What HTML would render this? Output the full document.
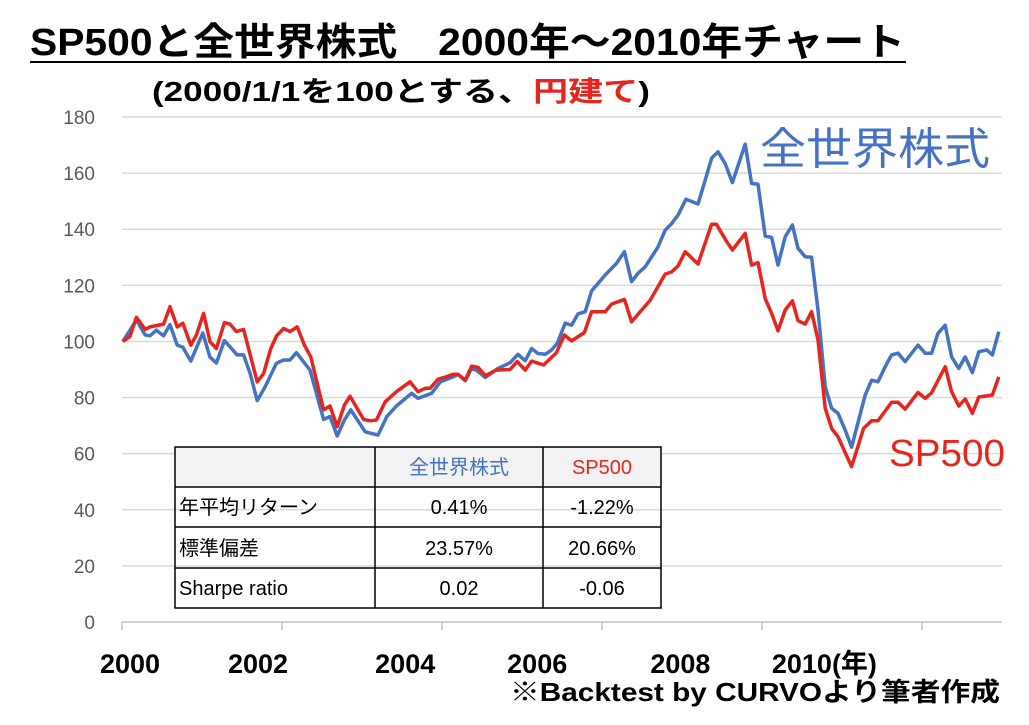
<!DOCTYPE html>
<html><head><meta charset="utf-8"><style>
body{margin:0;width:1029px;height:720px;background:#fff;overflow:hidden;font-family:"Liberation Sans","Noto Sans CJK JP",sans-serif;}
svg text{font-family:"Liberation Sans","Noto Sans CJK JP",sans-serif;}
</style></head><body>
<svg id="chart" width="1029" height="720" xmlns="http://www.w3.org/2000/svg">
<text x="30" y="55" font-size="38" font-weight="bold" fill="#000" textLength="875" lengthAdjust="spacingAndGlyphs">SP500と全世界株式　2000年～2010年チャート</text>
<line x1="30" y1="62" x2="906" y2="62" stroke="#000" stroke-width="2"/>
<text x="152" y="101" font-size="28" font-weight="bold" fill="#000" textLength="498" lengthAdjust="spacingAndGlyphs">(2000/1/1を100とする、<tspan fill="#e8251c">円建て</tspan>)</text>
<g id="grid"></g><g id="axes"></g><g id="series"></g>
<text x="760" y="164" font-size="44" fill="#4472c4" textLength="230" lengthAdjust="spacingAndGlyphs">全世界株式</text>
<text x="889" y="466" font-size="38" fill="#e8251c" textLength="116" lengthAdjust="spacingAndGlyphs">SP500</text>
<text x="510" y="701" font-size="26" font-weight="bold" fill="#000" textLength="490" lengthAdjust="spacingAndGlyphs">※Backtest by CURVOより筆者作成</text>
<g font-size="20">
<rect x="175" y="447" width="486" height="40" fill="#f2f2f2"/>
<rect x="175" y="447" width="486" height="161" fill="none" stroke="#000" stroke-width="1.5"/>
<line x1="175" y1="487" x2="661" y2="487" stroke="#000" stroke-width="1.5"/>
<line x1="175" y1="527" x2="661" y2="527" stroke="#000" stroke-width="1.5"/>
<line x1="175" y1="568" x2="661" y2="568" stroke="#000" stroke-width="1.5"/>
<line x1="375" y1="447" x2="375" y2="608" stroke="#000" stroke-width="1.5"/>
<line x1="543" y1="447" x2="543" y2="608" stroke="#000" stroke-width="1.5"/>
<text x="459" y="474" text-anchor="middle" fill="#4472c4">全世界株式</text>
<text x="602" y="474" text-anchor="middle" fill="#e8251c">SP500</text>
<text x="179" y="514">年平均リターン</text>
<text x="459" y="514" text-anchor="middle">0.41%</text>
<text x="602" y="514" text-anchor="middle">-1.22%</text>
<text x="179" y="555">標準偏差</text>
<text x="459" y="555" text-anchor="middle">23.57%</text>
<text x="602" y="555" text-anchor="middle">20.66%</text>
<text x="179" y="595">Sharpe ratio</text>
<text x="459" y="595" text-anchor="middle">0.02</text>
<text x="602" y="595" text-anchor="middle">-0.06</text>
</g>
</svg>
<script>
const yTicks=[0,20,40,60,80,100,120,140,160,180];
const xTickYears=[2000,2002,2004,2006,2008,2010];
const xLabelYears=[2000.1,2001.7,2003.54,2005.19,2006.98,2008.78];
const xTickLabels=["2000","2002","2004","2006","2008","2010(年)"];
const worldT=[2000.01,2000.18,2000.29,2000.35,2000.43,2000.52,2000.60,2000.69,2000.76,2000.86,2001.01,2001.10,2001.18,2001.28,2001.44,2001.52,2001.60,2001.69,2001.79,2001.93,2002.02,2002.10,2002.18,2002.35,2002.52,2002.60,2002.69,2002.78,2002.86,2003.04,2003.20,2003.31,2003.43,2003.62,2003.70,2003.87,2003.98,2004.14,2004.20,2004.29,2004.37,2004.43,2004.54,2004.70,2004.85,2004.95,2005.04,2005.12,2005.20,2005.29,2005.37,2005.44,2005.54,2005.62,2005.70,2005.79,2005.87,2006.04,2006.18,2006.28,2006.37,2006.45,2006.54,2006.70,2006.79,2006.87,2006.95,2007.05,2007.20,2007.29,2007.37,2007.45,2007.54,2007.63,2007.79,2007.87,2007.95,2008.04,2008.12,2008.20,2008.29,2008.38,2008.45,2008.54,2008.62,2008.70,2008.79,2008.87,2008.95,2009.04,2009.12,2009.29,2009.37,2009.45,2009.54,2009.62,2009.70,2009.79,2009.95,2010.04,2010.12,2010.20,2010.29,2010.37,2010.46,2010.54,2010.63,2010.71,2010.81,2010.88,2010.96];
const worldV=[100,107.6,102.3,102,104,102,106,98.7,98,93,103,94.4,92.3,100.3,95.2,95.2,88.7,78.9,83.9,92.2,93.4,93.4,96,89.8,72.2,73.2,66.3,72,75.6,67.8,66.6,73.2,77,81.5,79.7,81.5,85.6,87.4,88.3,86,90.4,89.8,87.2,90.4,92.4,95.4,93.1,97.5,95.7,95.4,97,99.3,106.5,105.8,109.8,110.6,118,123.7,127.8,132,121.3,124.3,126.6,133.7,139.7,142,145,150.7,149,157.5,165.3,167.6,163.4,156.6,170.3,156.3,156.1,137.6,137.1,127.2,137.3,141.5,133.2,130.2,130,111.2,83.9,76.2,74.4,68.4,62.3,80.9,86.2,85.6,91,95.2,95.8,92.8,98.7,95.8,95.8,102.9,105.8,94.5,90.4,94.5,88.9,96.3,97,95.2,103.5];
const spT=[2000.01,2000.10,2000.18,2000.29,2000.35,2000.52,2000.60,2000.69,2000.76,2000.86,2000.93,2001.02,2001.10,2001.18,2001.28,2001.35,2001.43,2001.52,2001.69,2001.77,2001.86,2001.93,2002.02,2002.10,2002.19,2002.28,2002.36,2002.52,2002.60,2002.69,2002.78,2002.85,2003.02,2003.10,2003.18,2003.29,2003.43,2003.60,2003.70,2003.79,2003.85,2003.95,2004.02,2004.14,2004.20,2004.29,2004.37,2004.45,2004.54,2004.68,2004.85,2004.94,2005.04,2005.12,2005.27,2005.43,2005.53,2005.62,2005.78,2005.87,2006.04,2006.12,2006.28,2006.37,2006.45,2006.60,2006.79,2006.87,2006.95,2007.04,2007.20,2007.37,2007.43,2007.56,2007.63,2007.79,2007.87,2007.95,2008.04,2008.12,2008.20,2008.29,2008.38,2008.45,2008.54,2008.62,2008.70,2008.79,2008.87,2008.95,2009.12,2009.27,2009.37,2009.45,2009.62,2009.70,2009.79,2009.95,2010.04,2010.12,2010.29,2010.37,2010.46,2010.54,2010.63,2010.71,2010.81,2010.88,2010.96];
const spV=[100,101.8,108.6,104.3,105.2,106.2,112.4,105.2,106.5,98.7,102.3,110,99.9,97.5,106.7,106.2,103.5,104.3,85.6,88.6,97.5,101.9,104.6,103.5,105.2,98.7,94.5,75.6,77,69.6,77.3,80.5,72.2,71.7,72,78.5,82.1,85.6,82.1,83.3,83.3,86.5,87.1,88.3,88.3,86.2,91.2,90.8,87.8,89.8,90,92.8,89.8,93,91.6,96,102.3,100.2,103.2,110.6,110.6,113.3,115,107,109.7,114.6,124,124.8,126.9,132,127.6,141.8,141.8,135.5,132.6,138.5,127.2,128.1,115.3,110,103.8,111.2,114.5,107.4,106.2,110.6,100.5,76.2,69,66,55.4,69,71.7,71.7,78.3,78.3,75.9,81.8,79.7,81.7,91,82.1,77,79.5,74.4,80.2,80.6,80.9,87.4];
const NS="http://www.w3.org/2000/svg";
const X0=122,X1=1002,Y0=622,Y1=117;
function xs(t){return X0+(t-2000)/11*(X1-X0);}
function ys(v){return Y0-v/180*(Y0-Y1);}
function mk(tag,attrs,parent){const e=document.createElementNS(NS,tag);for(const k in attrs)e.setAttribute(k,attrs[k]);parent.appendChild(e);return e;}
const grid=document.getElementById('grid'),axes=document.getElementById('axes'),ser=document.getElementById('series');
yTicks.forEach(v=>{
 if(v>0){const l=mk('line',{x1:X0,x2:X1,y1:ys(v),y2:ys(v),stroke:'#d9d9d9','stroke-width':1.5},grid);
 
 }
 const t=mk('text',{x:95,y:ys(v)+7,'text-anchor':'end','font-size':19,fill:'#595959'},axes);t.textContent=v;
 
 
});
const ax=mk('line',{x1:X0,x2:X1,y1:Y0,y2:Y0,stroke:'#bfbfbf','stroke-width':1.5},axes);


xTickYears.forEach((yr,i)=>{
 const tk=mk('line',{x1:xs(yr),x2:xs(yr),y1:Y0,y2:Y0+8,stroke:'#bfbfbf','stroke-width':1.5},axes);
 
 
 const t=mk('text',{x:xs(xLabelYears[i]),y:673,'font-size':27,'font-weight':'bold','text-anchor':'middle',fill:'#000'},axes);t.textContent=xTickLabels[i];
 
 
});
function line(T,V,color,name){
 const d=T.map((t,i)=>(i?'L':'M')+xs(t).toFixed(1)+' '+ys(V[i]).toFixed(1)).join(' ');
 const p=mk('path',{d:d,fill:'none',stroke:color,'stroke-width':3.5,'stroke-linejoin':'round'},ser);
 
 
}
line(worldT,worldV,'#4472c4','world-stock-line');
line(spT,spV,'#e8251c','sp500-line');
</script>
</body></html>
